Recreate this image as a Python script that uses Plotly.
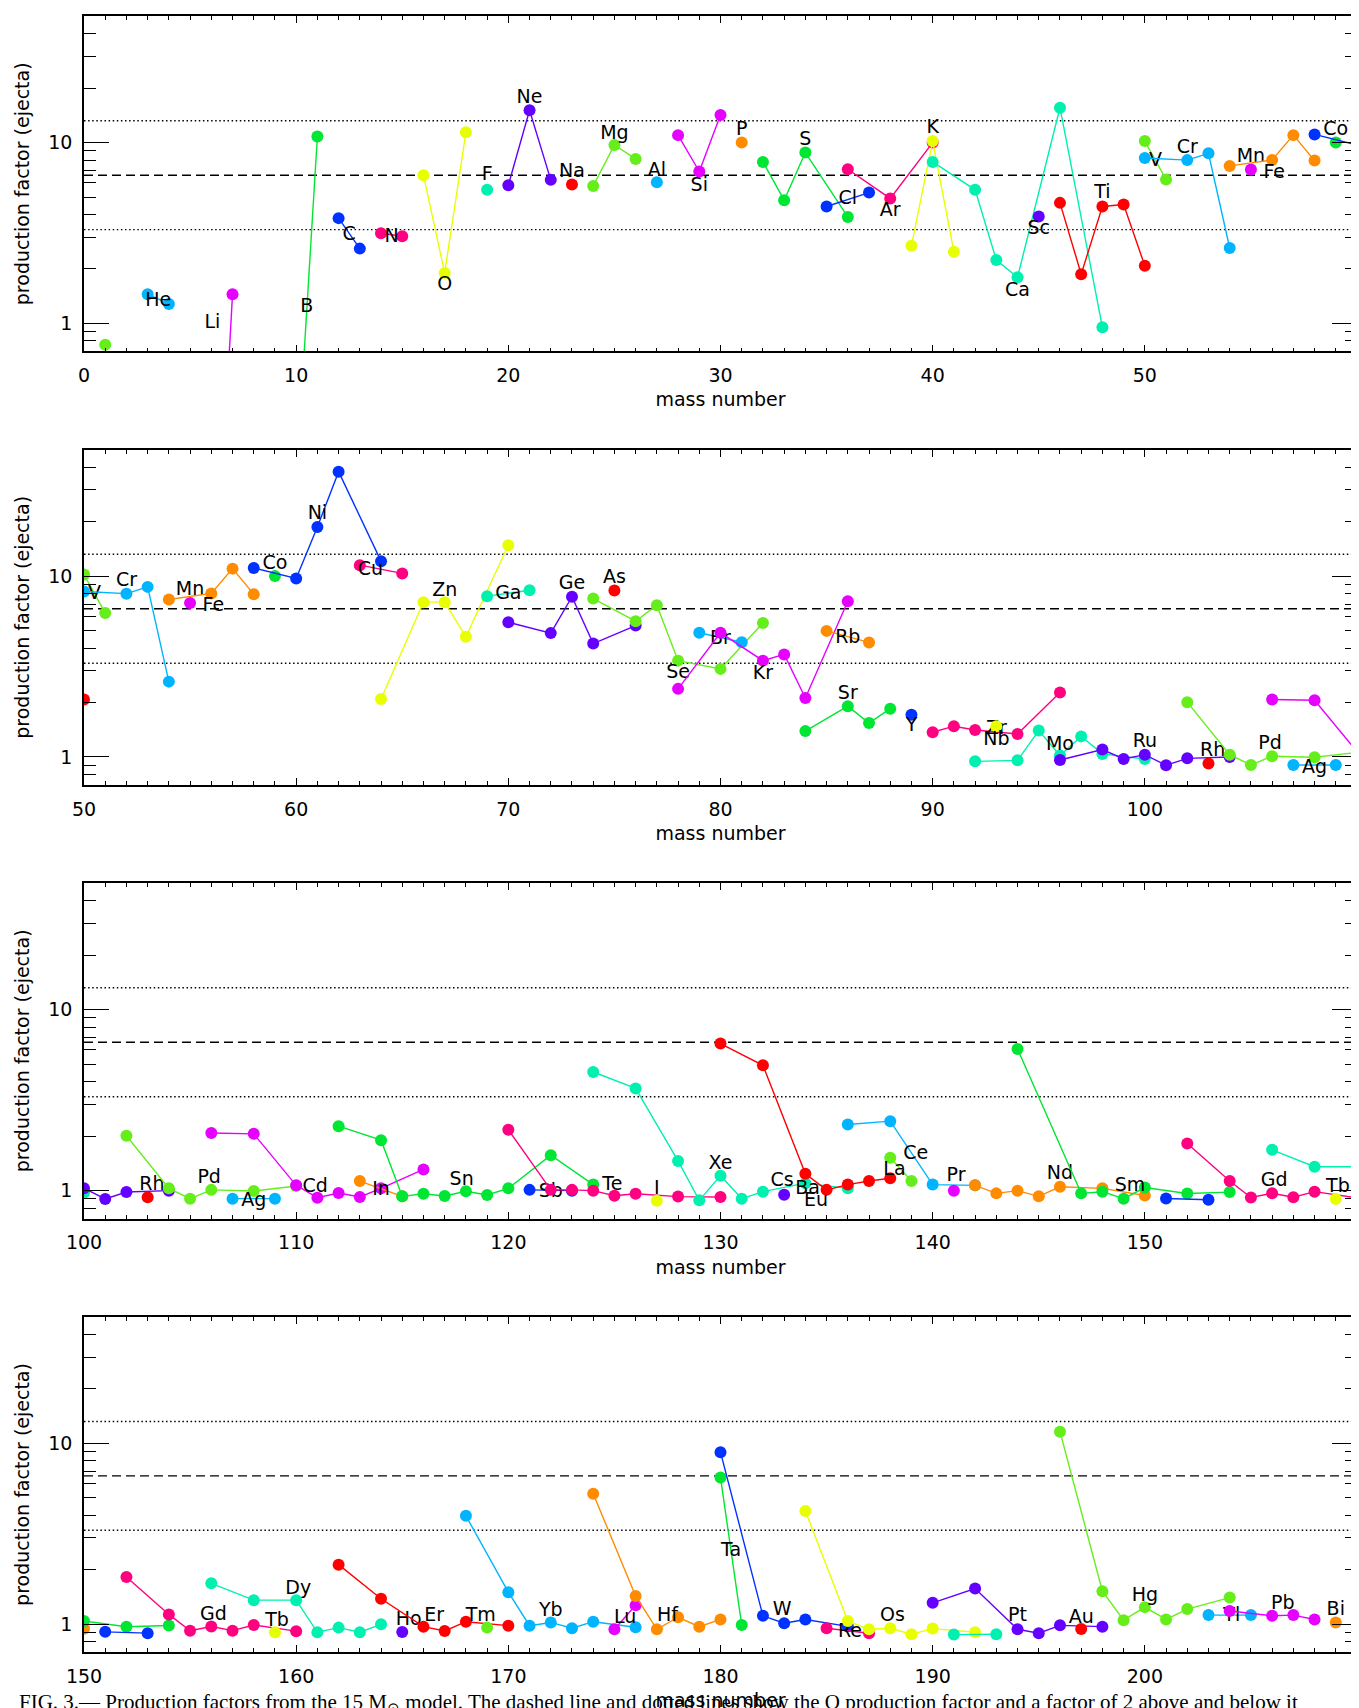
import math
import plotly.graph_objects as go

# ---------------- data ----------------
SYMBOLS = ["H", "He", "Li", "Be", "B", "C", "N", "O", "F", "Ne", "Na", "Mg", "Al", "Si", "P", "S",
           "Cl", "Ar", "K", "Ca", "Sc", "Ti", "V", "Cr", "Mn", "Fe", "Co", "Ni", "Cu", "Zn", "Ga",
           "Ge", "As", "Se", "Br", "Kr", "Rb", "Sr", "Y", "Zr", "Nb", "Mo", "Ru", "Rh", "Pd", "Ag",
           "Cd", "In", "Sn", "Sb", "Te", "I", "Xe", "Cs", "Ba", "La", "Ce", "Pr", "Nd", "Sm", "Eu",
           "Gd", "Tb", "Dy", "Ho", "Er", "Tm", "Yb", "Lu", "Hf", "Ta", "W", "Re", "Os", "Ir", "Pt",
           "Au", "Hg", "Tl", "Pb", "Bi"]

MASSES = [
    [1], [3, 4], [6, 7], [], [10, 11], [12, 13], [14, 15], [16, 17, 18], [19], [20, 21, 22], [23],
    [24, 25, 26], [27], [28, 29, 30], [31], [32, 33, 34, 36], [35, 37], [36, 38, 40], [39, 40, 41],
    [40, 42, 43, 44, 46, 48], [45], [46, 47, 48, 49, 50], [50, 51], [50, 52, 53, 54], [55],
    [54, 56, 57, 58], [59], [58, 60, 61, 62, 64], [63, 65], [64, 66, 67, 68, 70], [69, 71],
    [70, 72, 73, 74, 76], [75], [74, 76, 77, 78, 80, 82], [79, 81], [78, 80, 82, 83, 84, 86],
    [85, 87], [84, 86, 87, 88], [89], [90, 91, 92, 94, 96], [93], [92, 94, 95, 96, 97, 98, 100],
    [96, 98, 99, 100, 101, 102, 104], [103], [102, 104, 105, 106, 108, 110], [107, 109],
    [106, 108, 110, 111, 112, 113, 114, 116], [113, 115],
    [112, 114, 115, 116, 117, 118, 119, 120, 122, 124], [121, 123],
    [120, 122, 123, 124, 125, 126, 128, 130], [127], [124, 126, 128, 129, 130, 131, 132, 134, 136],
    [133], [130, 132, 134, 135, 136, 137, 138], [138, 139], [136, 138, 140, 142], [141],
    [142, 143, 144, 145, 146, 148, 150], [144, 147, 148, 149, 150, 152, 154], [151, 153],
    [152, 154, 155, 156, 157, 158, 160], [159], [156, 158, 160, 161, 162, 163, 164], [165],
    [162, 164, 166, 167, 168, 170], [169], [168, 170, 171, 172, 173, 174, 176], [175, 176],
    [174, 176, 177, 178, 179, 180], [180, 181], [180, 182, 183, 184, 186], [185, 187],
    [184, 186, 187, 188, 189, 190, 192], [191, 193], [190, 192, 194, 195, 196, 198], [197],
    [196, 198, 199, 200, 201, 202, 204], [203, 205], [204, 206, 207, 208], [209],
]

PFACTORS = [
    [0.76], [1.45, 1.28], [0.011, 1.45], [], [0.13, 10.8], [3.82, 2.59], [3.15, 3.03],
    [6.6, 1.90, 11.4], [5.48], [5.81, 15.1, 6.22], [5.86], [5.76, 9.71, 8.12], [6.04],
    [11.0, 6.92, 14.2], [10.0], [7.82, 4.80, 8.81, 3.88], [4.43, 5.29], [7.12, 4.91, 10.0],
    [2.69, 10.2, 2.49], [7.82, 5.48, 2.24, 1.80, 15.6, 0.95], [3.90], [4.64, 1.87, 4.43, 4.54, 2.08],
    [10.2, 6.25], [8.22, 8.0, 8.72, 2.61], [7.1], [7.43, 8.02, 11.0, 7.95], [10.0],
    [11.1, 9.71, 18.7, 37.8, 12.1], [11.5, 10.35], [2.09, 7.18, 7.18, 4.62, 14.8], [7.75, 8.36],
    [5.56, 4.84, 7.69, 4.24, 5.33], [8.33], [7.52, 5.63, 6.91, 3.41, 3.07, 5.50], [4.86, 4.31],
    [2.38, 4.86, 3.41, 3.69, 2.12, 7.27], [4.98, 4.30], [1.39, 1.91, 1.54, 1.85], [1.71],
    [1.37, 1.48, 1.41, 1.34, 2.27], [1.48], [0.946, 0.958, 1.40, 1.02, 1.30, 1.04, 0.975],
    [0.963, 1.10, 0.975, 1.03, 0.90, 0.983, 1.0], [0.92], [2.01, 1.03, 0.903, 1.01, 0.996, 1.06],
    [0.903, 0.903], [2.08, 2.06, 1.07, 0.915, 0.971, 0.923, 1.03, 1.31], [1.13, 0.93],
    [2.27, 1.90, 0.93, 0.962, 0.934, 0.992, 0.946, 1.03, 1.57, 1.08], [1.01, 1.0],
    [2.17, 1.01, 1.01, 1.0, 0.938, 0.962, 0.927, 0.923], [0.88],
    [4.52, 3.67, 1.46, 0.884, 1.21, 0.903, 0.987, 1.10, 1.03], [0.95],
    [6.49, 4.92, 1.24, 1.01, 1.08, 1.13, 1.17], [1.52, 1.13], [2.32, 2.42, 1.08, 1.07], [1.0],
    [1.07, 0.966, 1.0, 0.93, 1.05, 1.03, 0.94], [6.06, 0.966, 0.987, 0.903, 1.04, 0.965, 0.982],
    [0.905, 0.89], [1.82, 1.13, 0.917, 0.968, 0.919, 0.987, 0.913], [0.90],
    [1.68, 1.355, 1.355, 0.90, 0.955, 0.90, 0.996], [0.904], [2.13, 1.38, 0.967, 0.915, 1.03, 0.979],
    [0.955], [3.97, 1.50, 0.979, 1.02, 0.947, 1.03, 0.959], [0.935, 1.27],
    [5.26, 1.43, 0.935, 1.09, 0.967, 1.06], [6.46, 0.987], [8.93, 1.11, 1.01, 1.06, 0.971],
    [0.947, 0.889], [4.22, 1.04, 0.935, 0.947, 0.878, 0.943, 0.90], [0.874, 0.878],
    [1.31, 1.57, 0.935, 0.889, 0.983, 0.967], [0.939], [11.6, 1.52, 1.05, 1.24, 1.06, 1.21, 1.40],
    [1.12, 1.12], [1.18, 1.11, 1.12, 1.06], [1.02],
]

# element labels: symbol, mass number and production factor where the text sits
LABEL_SYMBOLS = ["He", "Li", "B", "C", "N", "O", "F", "Ne", "Na", "Mg", "Al", "Si", "P", "S", "Cl",
                 "Ar", "K", "Ca", "Sc", "Ti", "V", "Cr", "Mn", "Fe", "Co", "Ni", "Cu", "Zn", "Ga",
                 "Ge", "As", "Se", "Br", "Kr", "Rb", "Sr", "Y", "Zr", "Nb", "Mo", "Ru", "Rh", "Pd",
                 "Ag", "Cd", "In", "Sn", "Sb", "Te", "I", "Xe", "Cs", "Ba", "La", "Ce", "Pr", "Nd",
                 "Sm", "Eu", "Gd", "Tb", "Dy", "Ho", "Er", "Tm", "Yb", "Lu", "Hf", "Ta", "W", "Re",
                 "Os", "Pt", "Au", "Hg", "Tl", "Pb", "Bi"]
LABEL_MASS = [3.5, 6.05, 10.5, 12.5, 14.5, 17, 19, 21, 23, 25, 27, 29, 31, 34, 36,
              38, 40, 44, 45, 48, 50.5, 52, 55, 56.1, 59, 61, 63.5, 67, 70,
              73, 75, 78, 80, 82, 86, 86, 89, 93, 93, 96, 100, 103.2, 105.9,
              108, 110.9, 114, 117.8, 122, 124.9, 127, 130, 132.9, 134.1, 138.2, 139.2, 141.1, 146,
              149.3, 134.5, 156.1, 159.1, 160.1, 165.3, 166.5, 168.7, 172, 175.5, 177.5, 180.5, 182.9, 186.1,
              188.1, 194, 197, 200, 204.1, 206.5, 209]
LABEL_PF = [1.32, 1.0, 1.22, 3.09, 2.99, 1.62, 6.63, 17.6, 6.83, 11.1, 6.98, 5.71, 11.75, 10.3, 4.83,
            4.16, 12.0, 1.50, 3.32, 5.25, 7.9, 9.35, 8.3, 6.8, 11.7, 21.9, 10.8, 8.26, 7.92,
            9.0, 9.71, 2.89, 4.5, 2.86, 4.56, 2.21, 1.47, 1.42, 1.24, 1.16, 1.20, 1.07, 1.17,
            0.87, 1.05, 1.01, 1.14, 0.98, 1.07, 1.02, 1.40, 1.13, 1.02, 1.29, 1.59, 1.2, 1.23,
            1.06, 0.87, 1.12, 1.04, 1.55, 1.05, 1.1, 1.1, 1.17, 1.07, 1.1, 2.54, 1.19, 0.9,
            1.1, 1.1, 1.07, 1.42, 1.1, 1.28, 1.19]

O16_FACTOR = 6.6          # dashed reference line
BAND_FACTOR = 2.0         # dotted lines: factor of 2 above / below

PANEL_RANGES = [(0, 60), (50, 110), (100, 160), (150, 210)]
Y_MIN, Y_MAX = 0.7, 50.0

CAPTION = ("FIG. 3.— Production factors from the 15 M<sub>⊙</sub> model. The dashed line and dotted lines "
           "show the O production factor and a factor of 2 above and below it")

# ---------------- styling / layout ----------------
PALETTE = ["#66ee1a", "#00b4ff", "#e600ff", "#ff8c00", "#00e632", "#0032ff",
           "#ff0080", "#e8ff00", "#00f0b0", "#6400ff", "#ff0000"]
W, H = 1359, 1708
ML, MR, MT, MB = 76, 10, 8, 64
PLOT_H = H - MT - MB
PANEL_PX = [(8.3, 343.3), (441.7, 777.0), (875.0, 1210.7), (1309.0, 1644.0)]
FONT = "DejaVu Sans"

label_lookup = {s: (m, v) for s, m, v in zip(LABEL_SYMBOLS, LABEL_MASS, LABEL_PF)}

fig = go.Figure()
layout = dict(width=W, height=H, margin=dict(l=ML, r=MR, t=MT, b=MB, autoexpand=False),
              showlegend=False, paper_bgcolor="white", plot_bgcolor="white",
              font=dict(family=FONT, size=19, color="black"))

for p, (x0, x1) in enumerate(PANEL_RANGES):
    sfx = "" if p == 0 else str(p + 1)
    xa, ya = "x" + sfx, "y" + sfx

    for lvl, dash in [(O16_FACTOR * BAND_FACTOR, "1.5px,2.6px"), (O16_FACTOR, "9px,5px"),
                      (O16_FACTOR / BAND_FACTOR, "1.5px,2.6px")]:
        fig.add_trace(go.Scatter(x=[x0, x1], y=[lvl, lvl], mode="lines", xaxis=xa, yaxis=ya,
                                 line=dict(color="black", width=1.4, dash=dash), hoverinfo="skip"))

    for i, (sym, m, v) in enumerate(zip(SYMBOLS, MASSES, PFACTORS)):
        col = PALETTE[i % len(PALETTE)]
        if m and max(m) >= x0 - 3 and min(m) <= x1 + 3:
            fig.add_trace(go.Scatter(x=m, y=v, mode="lines+markers", xaxis=xa, yaxis=ya,
                                     line=dict(color=col, width=1.4),
                                     marker=dict(color=col, size=12, line=dict(width=0)),
                                     name=sym))
        if sym in label_lookup:
            lm, lv = label_lookup[sym]
            if x0 < lm < x1:
                fig.add_trace(go.Scatter(x=[lm], y=[lv], text=[sym], mode="text", xaxis=xa, yaxis=ya,
                                         textposition="middle center",
                                         textfont=dict(family=FONT, size=19, color="black"),
                                         hoverinfo="skip"))

    top, bot = PANEL_PX[p]
    ydom = [(H - MB - bot) / PLOT_H, min(1.0, (H - MB - top) / PLOT_H)]
    layout["xaxis" + sfx] = dict(
        domain=[0, 1], range=[x0, x1], anchor=ya, automargin=False,
        tickmode="array", tickvals=list(range(x0, x1 + 1, 10)),
        ticks="inside", ticklen=7, tickwidth=1.2, tickcolor="black",
        minor=dict(tickmode="linear", tick0=0, dtick=1, ticks="inside", ticklen=4,
                   tickwidth=1, tickcolor="black"),
        mirror="ticks", showline=True, linecolor="black", linewidth=1.6,
        showgrid=False, zeroline=False, ticklabelstandoff=6,
        tickfont=dict(family=FONT, size=19),
        title=dict(text="mass number", standoff=8, font=dict(family=FONT, size=19)))
    layout["yaxis" + sfx] = dict(
        domain=ydom, type="log", range=[math.log10(Y_MIN), math.log10(Y_MAX)], anchor=xa,
        automargin=False,
        tickmode="array", tickvals=[1, 10], ticktext=["1", "10"],
        ticks="inside", ticklen=25, tickwidth=1.2, tickcolor="black",
        minor=dict(tickmode="array", tickvals=[0.8, 0.9, 2, 3, 4, 5, 6, 7, 8, 9, 20, 30, 40],
                   ticks="inside", ticklen=12, tickwidth=1, tickcolor="black"),
        mirror="ticks", showline=True, linecolor="black", linewidth=1.6,
        showgrid=False, zeroline=False, ticklabelstandoff=6,
        tickfont=dict(family=FONT, size=19),
        title=dict(text="production factor (ejecta)", standoff=14, font=dict(family=FONT, size=19)))

layout["annotations"] = [dict(text=CAPTION, xref="paper", yref="paper",
                              x=(9 - ML) / (W - ML - MR), y=(H - MB - 1680) / PLOT_H,
                              xanchor="left", yanchor="top", showarrow=False, align="left",
                              font=dict(family="Liberation Serif", size=21, color="black"))]

fig.update_layout(**layout)
fig.write_html("out.html")
